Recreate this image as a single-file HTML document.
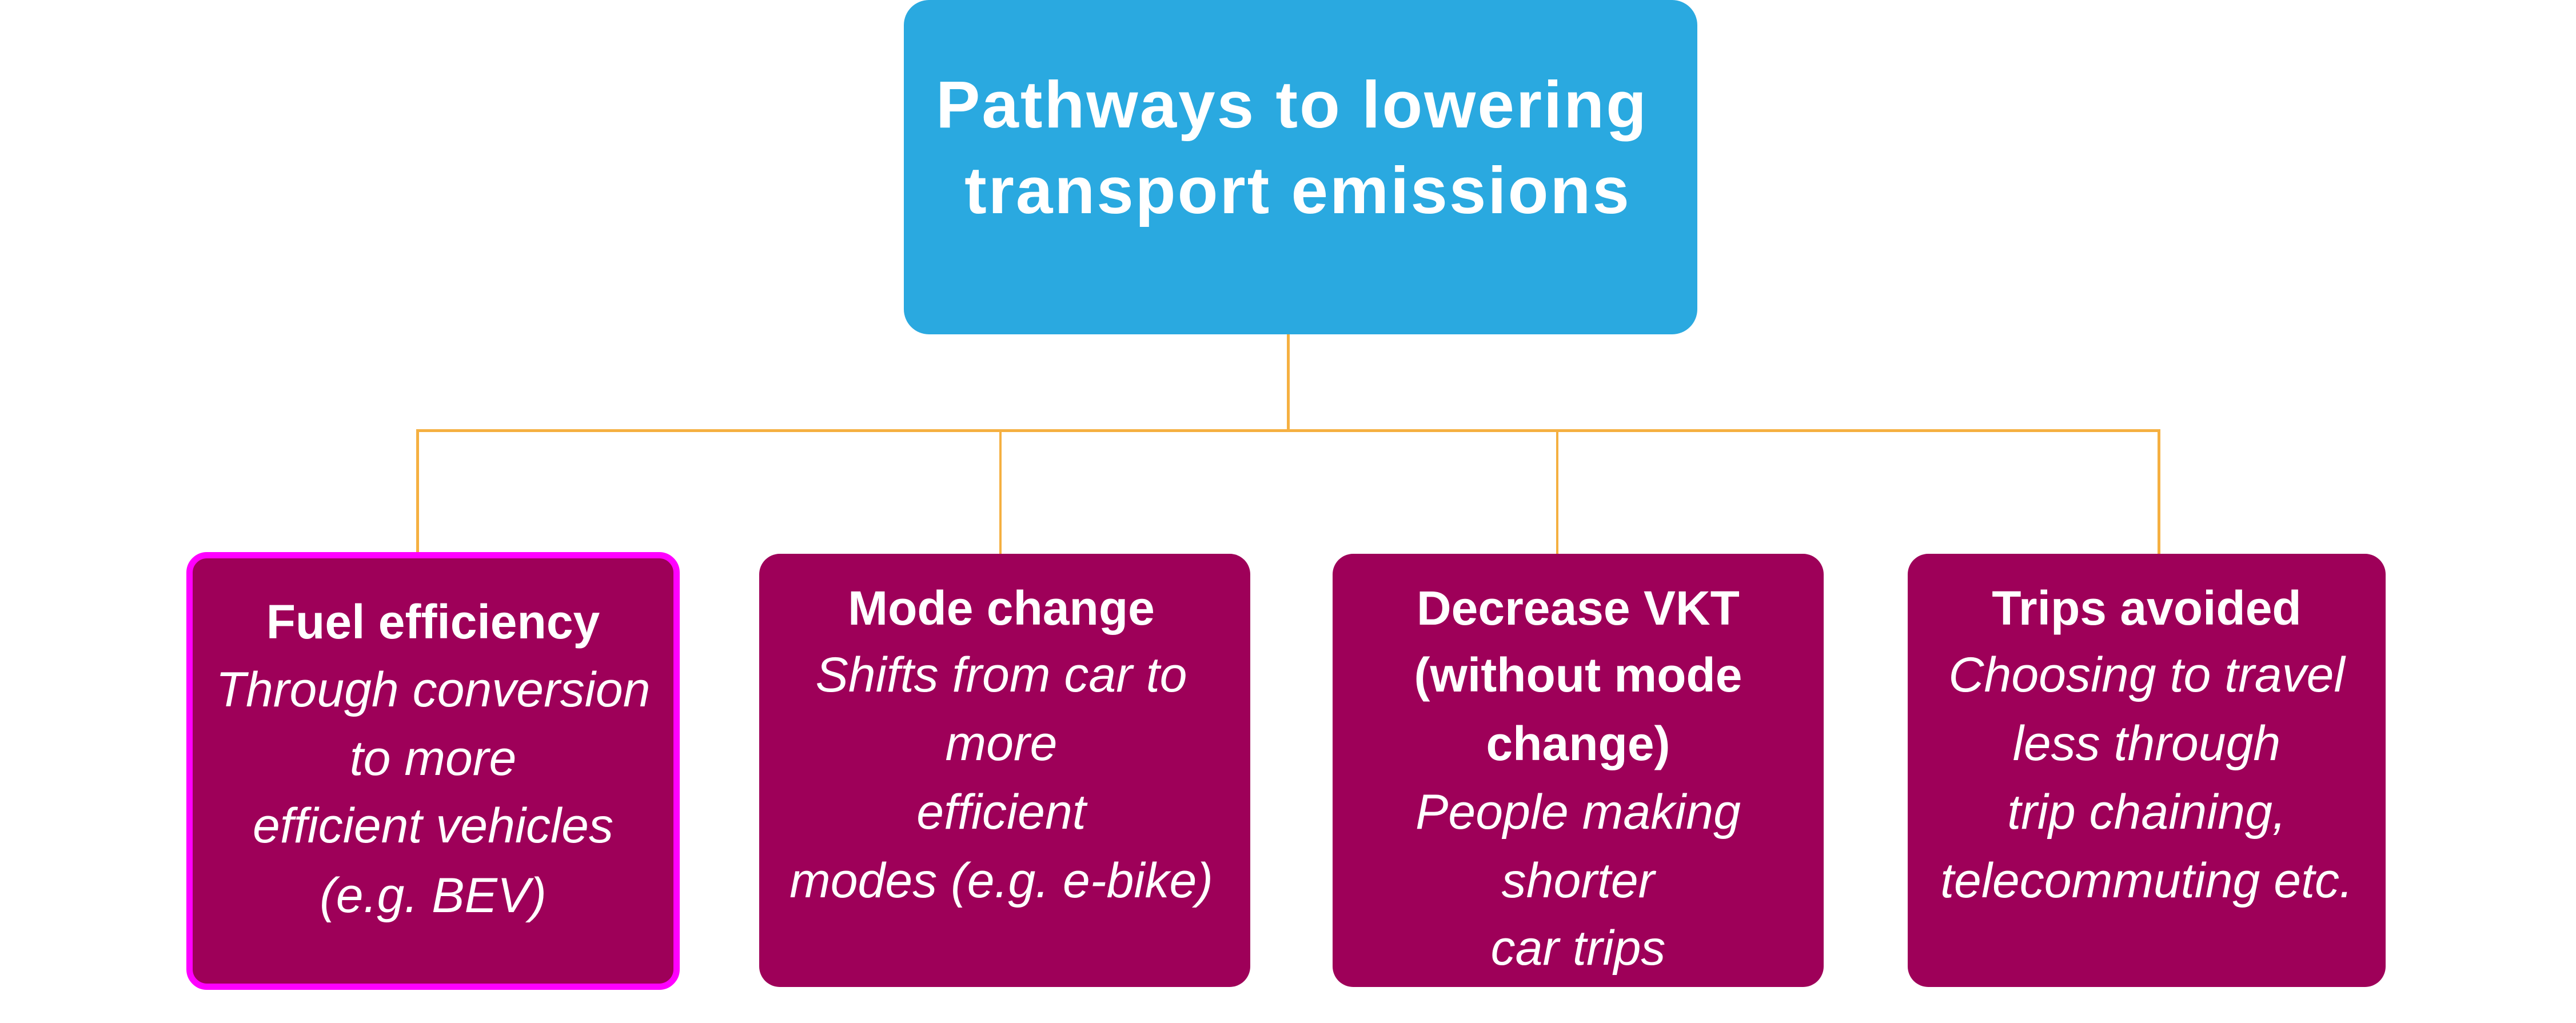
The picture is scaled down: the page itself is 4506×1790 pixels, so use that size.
<!DOCTYPE html>
<html><head><meta charset="utf-8"><style>
html,body{margin:0;padding:0;background:#fff;}
body{width:4506px;height:1790px;position:relative;overflow:hidden;font-family:"Liberation Sans",sans-serif;color:#fff;}
.box{position:absolute;box-sizing:border-box;background:#9e0059;border-radius:36px;}
.t{position:absolute;left:0;right:0;text-align:center;white-space:nowrap;}
.h{font-weight:bold;font-size:84px;}
.i{font-style:italic;font-size:86px;}
.ln{position:absolute;background:#f5b041;}
</style></head><body>
<div class="box" style="left:1581px;top:0;width:1388px;height:585px;background:#2aa9e0;border-radius:44px;">
  <div class="t" style="top:118px;font-weight:bold;font-size:116px;letter-spacing:3px;line-height:130px;left:-30px;">Pathways to lowering</div>
  <div class="t" style="top:268px;font-weight:bold;font-size:116px;letter-spacing:3px;line-height:130px;left:-10px;">transport emissions</div>
</div>
<div class="ln" style="left:2251px;top:585px;width:5px;height:170px;"></div>
<div class="ln" style="left:728px;top:751px;width:3050px;height:5px;"></div>
<div class="ln" style="left:728px;top:751px;width:5px;height:220px;"></div>
<div class="ln" style="left:1748px;top:751px;width:4px;height:220px;"></div>
<div class="ln" style="left:2722px;top:751px;width:4px;height:220px;"></div>
<div class="ln" style="left:3774px;top:751px;width:5px;height:220px;"></div>

<div class="box" style="left:326px;top:966px;width:863px;height:766px;border:11px solid #ff00ff;">
  <div class="t h" style="top:56px;line-height:110px;">Fuel efficiency</div>
  <div class="t i" style="top:175px;line-height:110px;">Through conversion</div>
  <div class="t i" style="top:295px;line-height:110px;">to more</div>
  <div class="t i" style="top:413px;line-height:110px;">efficient vehicles</div>
  <div class="t i" style="top:535px;line-height:110px;">(e.g. BEV)</div>
</div>
<div class="box" style="left:1328px;top:969px;width:859px;height:758px;">
  <div class="t h" style="top:40px;line-height:110px;right:12px;">Mode change</div>
  <div class="t i" style="top:157px;line-height:110px;right:12px;">Shifts from car to</div>
  <div class="t i" style="top:277px;line-height:110px;right:12px;">more</div>
  <div class="t i" style="top:397px;line-height:110px;right:12px;">efficient</div>
  <div class="t i" style="top:517px;line-height:110px;right:12px;">modes (e.g. e-bike)</div>
</div>
<div class="box" style="left:2331px;top:969px;width:859px;height:758px;">
  <div class="t h" style="top:40px;line-height:110px;">Decrease VKT</div>
  <div class="t h" style="top:157px;line-height:110px;">(without mode</div>
  <div class="t h" style="top:277px;line-height:110px;">change)</div>
  <div class="t i" style="top:397px;line-height:110px;">People making</div>
  <div class="t i" style="top:517px;line-height:110px;">shorter</div>
  <div class="t i" style="top:635px;line-height:110px;">car trips</div>
</div>
<div class="box" style="left:3337px;top:969px;width:836px;height:758px;">
  <div class="t h" style="top:40px;line-height:110px;">Trips avoided</div>
  <div class="t i" style="top:157px;line-height:110px;">Choosing to travel</div>
  <div class="t i" style="top:277px;line-height:110px;">less through</div>
  <div class="t i" style="top:397px;line-height:110px;">trip chaining,</div>
  <div class="t i" style="top:517px;line-height:110px;">telecommuting etc.</div>
</div>
</body></html>
